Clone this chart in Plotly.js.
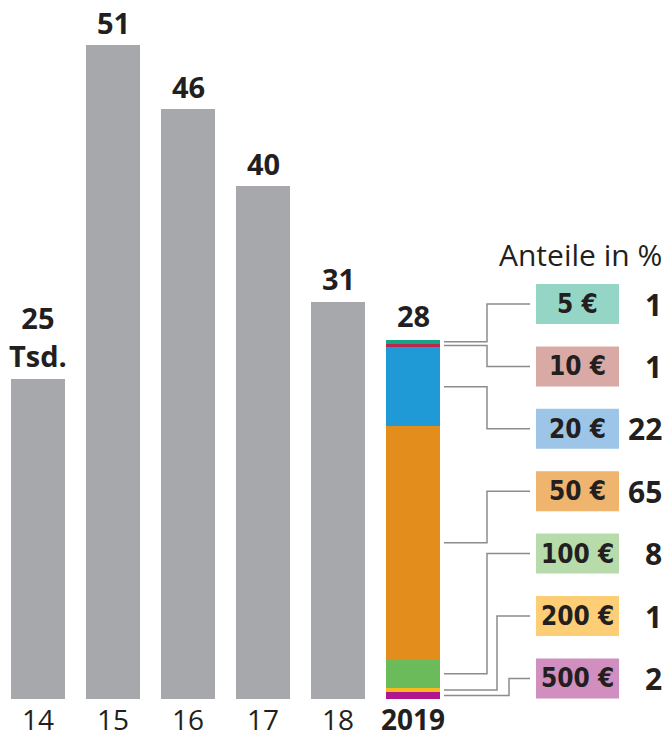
<!DOCTYPE html>
<html>
<head>
<meta charset="utf-8">
<script src="https://cdn.plot.ly/plotly-3.0.1.min.js"></script>
<style>html,body{margin:0;padding:0;background:#fff;}#chart{width:667px;height:741px;}</style>
</head>
<body>
<div id="chart"></div>
<script>
// ---- data ----
const years = ['14', '15', '16', '17', '18', '2019'];
const totals = [25, 51, 46, 40, 31, 28]; // Tsd.
const denoms = ['5 €', '10 €', '20 €', '50 €', '100 €', '200 €', '500 €'];
const shares = [1, 1, 22, 65, 8, 1, 2]; // Anteile in %
const segColors = ['#17a58a', '#b8284f', '#1f9ad6', '#e28d1c', '#6cbb5a', '#f7bb1f', '#b0168e'];
const boxColors = ['#95d5c6', '#d9a9a6', '#9cc5e8', '#efb46d', '#b8dbab', '#fece76', '#d08fbf'];

// ---- layout constants (pixels) ----
const W = 667, H = 741;
const baseY = 699;          // pixel of zero line
const pxPerUnit = 12.82;
const pxPerCat = 75, firstCenter = 38;
const X = px => (px - firstCenter) / pxPerCat;
const Y = py => (baseY - py) / pxPerUnit;
const rowTop = 304, rowStep = 62.4;
const boxL = 536, boxR = 619, boxH = 40;
const lineStart = 444, lineEnd = 530;
const bends = [487, 487, 487, 487, 487, 497, 509];
const txt = '#231f20';
const FONT = 'Open Sans, Noto Sans, sans-serif';
const NARROW = 'DejaVu Sans Condensed, DejaVu Sans, sans-serif';

const traces = [];
// grey bars 2014-2018
traces.push({
  type: 'bar', x: years.slice(0, 5), y: totals.slice(0, 5),
  marker: {color: '#a7a8ab'}, width: 0.72, hoverinfo: 'skip'
});
// stacked 2019 bar, bottom to top: 500 € ... 5 €
const total19 = totals[5];
const segVals = shares.map(s => total19 * s / 100);
const mids = new Array(shares.length);
let cum = 0;
for (let i = shares.length - 1; i >= 0; i--) {
  mids[i] = cum + segVals[i] / 2;
  cum += segVals[i];
  traces.push({
    type: 'bar', x: [years[5]], y: [segVals[i]], name: denoms[i],
    marker: {color: segColors[i]}, width: 0.72, hoverinfo: 'skip'
  });
}

const shapes = [];
const annotations = [];

// value labels above bars (x given as category index)
totals.forEach((v, i) => {
  annotations.push({
    x: i, y: v, xref: 'x', yref: 'y',
    text: i === 0 ? '25<br>Tsd.' : String(v),
    showarrow: false, yanchor: 'middle', xanchor: 'center',
    yshift: i === 0 ? 42 : (i === 5 ? 25 : 23),
    font: {family: FONT, size: 29, weight: 700, color: txt}
  });
});

// legend title
annotations.push({
  x: X(664), y: Y(254), xref: 'x', yref: 'y', text: 'Anteile in %',
  showarrow: false, xanchor: 'right', yanchor: 'middle',
  font: {family: FONT, size: 30, color: txt}
});

const lineStyle = {color: '#8c8c8c', width: 1.5};
denoms.forEach((d, i) => {
  const cy = rowTop + i * rowStep;
  shapes.push({type: 'rect', xref: 'x', yref: 'y',
    x0: X(boxL), x1: X(boxR), y0: Y(cy - boxH / 2), y1: Y(cy + boxH / 2),
    fillcolor: boxColors[i], line: {width: 0}, layer: 'above'});
  annotations.push({
    x: X((boxL + boxR) / 2), y: Y(cy), xref: 'x', yref: 'y', text: d,
    showarrow: false, xanchor: 'center', yanchor: 'middle',
    font: {family: NARROW, size: 26, weight: 700, stretch: 'condensed', color: txt}
  });
  annotations.push({
    x: X(664), y: Y(cy), xref: 'x', yref: 'y', text: String(shares[i]),
    showarrow: false, xanchor: 'right', yanchor: 'middle',
    font: {family: FONT, size: 30, weight: 700, color: txt}
  });
  // connector
  const bx = X(bends[i]);
  shapes.push({type: 'path', xref: 'x', yref: 'y',
    path: 'M ' + X(lineStart) + ' ' + mids[i] +
          ' L ' + bx + ' ' + mids[i] +
          ' L ' + bx + ' ' + Y(cy) +
          ' L ' + X(lineEnd) + ' ' + Y(cy),
    line: lineStyle, layer: 'above'});
});

const layout = {
  width: W, height: H,
  margin: {l: 0, r: 0, t: 0, b: H - baseY},
  paper_bgcolor: '#ffffff', plot_bgcolor: '#ffffff',
  barmode: 'stack', showlegend: false,
  xaxis: {
    type: 'category', range: [X(0), X(W)], fixedrange: true,
    showgrid: false, zeroline: false, showline: false, ticks: '',
    tickvals: years,
    ticktext: years.map((y, i) => i === 5 ? '<b>' + y + '</b>' : y),
    tickfont: {family: FONT, size: 28, color: txt},
    ticklabelstandoff: 2
  },
  yaxis: {
    range: [0, baseY / pxPerUnit], showgrid: false, zeroline: false,
    showline: false, showticklabels: false, ticks: '', fixedrange: true
  },
  shapes: shapes,
  annotations: annotations
};

Plotly.newPlot('chart', traces, layout, {staticPlot: true, displayModeBar: false});
</script>
</body>
</html>
